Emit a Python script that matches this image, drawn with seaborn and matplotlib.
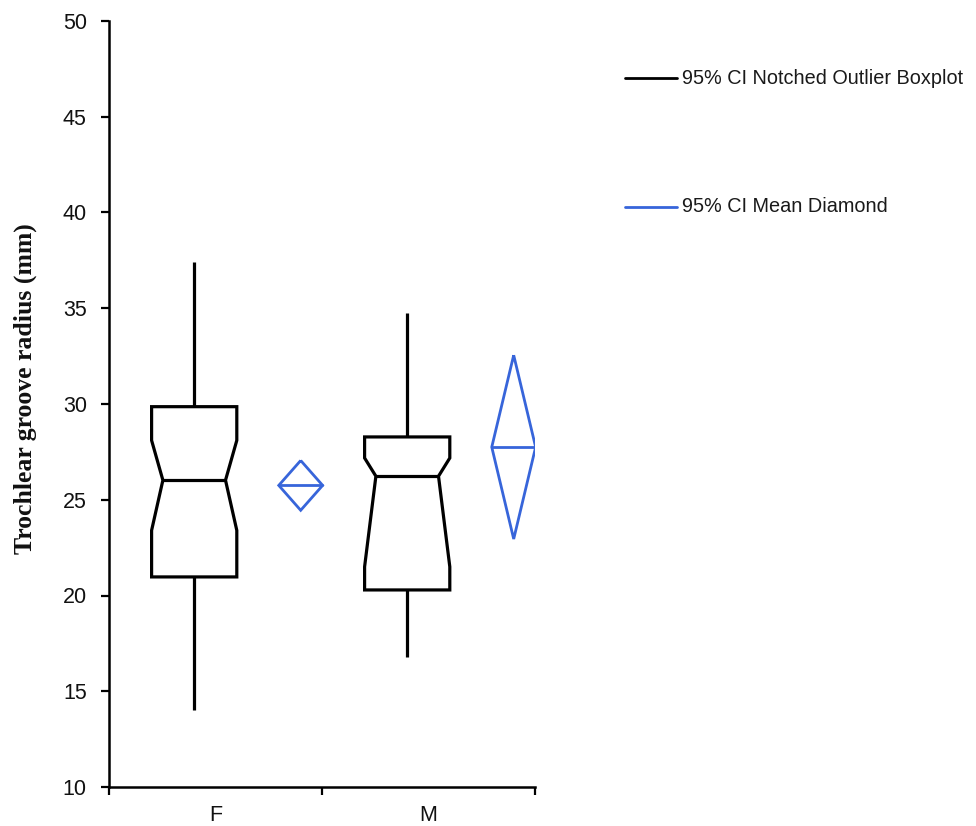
import numpy as np
import pandas as pd
import matplotlib
matplotlib.use("Agg")
import matplotlib.pyplot as plt
from matplotlib.lines import Line2D
from matplotlib.ticker import FixedLocator
import seaborn as sns

# ---- data ----
groups = ["F", "M"]
whisker_low = [14.0, 16.8]
q1 = [20.97, 20.29]
notch_low = [23.4, 21.5]
median = [26.02, 26.23]
notch_high = [28.1, 27.18]
q3 = [29.86, 28.28]
whisker_high = [37.4, 34.75]
mean = [25.75, 27.75]
mean_ci_low = [24.45, 22.95]
mean_ci_high = [27.05, 32.55]

legend_labels = ["95% CI Notched Outlier Boxplot", "95% CI Mean Diamond"]
y_ticks = [10, 15, 20, 25, 30, 35, 40, 45, 50]

# ---- layout constants ----
BOX_OFF, BOX_HW, NOTCH_HW = -0.10, 0.20, 0.147
DIA_OFF, DIA_HW = 0.40, 0.103
BLUE = "#3765DA"

sns.set_style("ticks")
plt.rcParams["font.family"] = ["Liberation Sans", "DejaVu Sans"]
plt.rcParams["text.color"] = "#111111"
plt.rcParams["axes.labelcolor"] = "#111111"
plt.rcParams["xtick.color"] = "black"
plt.rcParams["ytick.color"] = "black"
plt.rcParams["xtick.labelcolor"] = "#111111"
plt.rcParams["ytick.labelcolor"] = "#111111"

rows_box, rows_dia = [], []
for i, g in enumerate(groups):
    c = i + BOX_OFF
    L, R = c - BOX_HW, c + BOX_HW
    nl, nr = c - NOTCH_HW, c + NOTCH_HW
    outline_x = [c, R, R, nr, R, R, L, L, nl, L, L, c]
    outline_y = [q1[i], q1[i], notch_low[i], median[i], notch_high[i], q3[i],
                 q3[i], notch_high[i], median[i], notch_low[i], q1[i], q1[i]]
    for k, (xx, yy) in enumerate(zip(outline_x, outline_y)):
        rows_box.append(dict(x=xx, y=yy, part=f"{g}_box", order=k))
    for k, (xx, yy) in enumerate(zip([nl, nr], [median[i]] * 2)):
        rows_box.append(dict(x=xx, y=yy, part=f"{g}_med", order=k))
    for k, yy in enumerate([q3[i], whisker_high[i]]):
        rows_box.append(dict(x=c, y=yy, part=f"{g}_wh", order=k))
    for k, yy in enumerate([q1[i], whisker_low[i]]):
        rows_box.append(dict(x=c, y=yy, part=f"{g}_wl", order=k))

    d = i + DIA_OFF
    dx = [d, d + DIA_HW, d, d - DIA_HW, d]
    dy = [mean_ci_high[i], mean[i], mean_ci_low[i], mean[i], mean_ci_high[i]]
    for k, (xx, yy) in enumerate(zip(dx, dy)):
        rows_dia.append(dict(x=xx, y=yy, part=f"{g}_dia", order=k))
    for k, xx in enumerate([d - DIA_HW, d + DIA_HW]):
        rows_dia.append(dict(x=xx, y=mean[i], part=f"{g}_mean", order=k))

df_box = pd.DataFrame(rows_box)
df_dia = pd.DataFrame(rows_dia)

fig = plt.figure(figsize=(9.76, 8.26), dpi=100)
ax = fig.add_axes([109 / 976, 1 - 787 / 826, (535 - 109) / 976, (787 - 21) / 826])

sns.lineplot(data=df_box, x="x", y="y", units="part", estimator=None, sort=False,
             color="black", linewidth=2.3, ax=ax, legend=False,
             solid_joinstyle="miter", solid_capstyle="butt")
sns.lineplot(data=df_dia, x="x", y="y", units="part", estimator=None, sort=False,
             color=BLUE, linewidth=2.0, ax=ax, legend=False,
             solid_joinstyle="miter", solid_capstyle="butt")

ax.set_xlim(-0.5, 1.5)
ax.set_ylim(10, 50)
ax.set_yticks(y_ticks)
ax.set_yticklabels([str(t) for t in y_ticks], fontsize=15.5)
ax.set_xticks(range(len(groups)))
ax.set_xticklabels(groups, fontsize=15.5)
ax.xaxis.set_minor_locator(FixedLocator([-0.5, 0.5, 1.5]))
ax.tick_params(axis="x", which="major", length=0, pad=13)
ax.tick_params(axis="x", which="minor", length=6, width=1.6, direction="out", color="black")
ax.tick_params(axis="y", which="major", length=6, width=1.6, direction="out", pad=10, color="black")
ax.set_xlabel("")
ax.set_ylabel("Trochlear groove radius (mm)", fontsize=18.5, fontweight="bold",
              family=["Liberation Serif", "DejaVu Serif"], color="#111111")
ax.yaxis.set_label_coords(-0.17, 0.52)
for s in ["top", "right"]:
    ax.spines[s].set_visible(False)
for s in ["left", "bottom"]:
    ax.spines[s].set_linewidth(1.8)
    ax.spines[s].set_color("black")

# legend drawn in figure pixels
for lab, col, ypx in zip(legend_labels, ["black", BLUE], [78, 207]):
    fy = 1 - ypx / 826
    fig.add_artist(Line2D([625 / 976, 677 / 976], [fy, fy], color=col, linewidth=2.0,
                          transform=fig.transFigure))
    fig.text(682 / 976, fy, lab, fontsize=14.3, va="center", ha="left", color="#1a1a1a")

fig.savefig("out.png", dpi=100)
